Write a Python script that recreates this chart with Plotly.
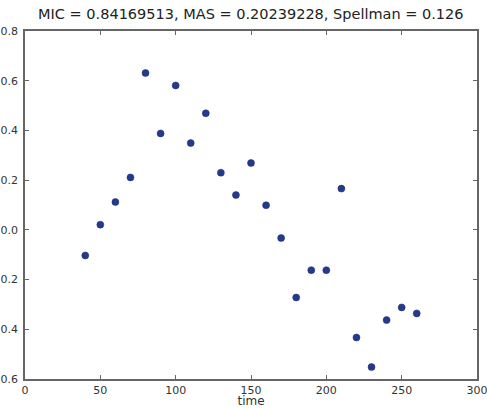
import plotly.graph_objects as go

time = [40, 50, 60, 70, 80, 90, 100, 110, 120, 130, 140, 150, 160, 170, 180,
        190, 200, 210, 220, 230, 240, 250, 260]
values = [-0.103, 0.021, 0.112, 0.211, 0.631, 0.388, 0.581, 0.349, 0.469, 0.230,
          0.140, 0.269, 0.099, -0.033, -0.272, -0.162, -0.162, 0.166, -0.433,
          -0.552, -0.363, -0.312, -0.336]
title_text = "MIC = 0.84169513, MAS = 0.20239228, Spellman = 0.126"
x_ticks = [0, 50, 100, 150, 200, 250, 300]
y_ticks = [-0.6, -0.4, -0.2, 0.0, 0.2, 0.4, 0.6, 0.8]

fig = go.Figure()
fig.add_trace(go.Scatter(
    x=time, y=values, mode="markers",
    marker=dict(size=7, color="#233a8f", line=dict(color="#1a2a66", width=0.5)),
    showlegend=False,
))

axis_common = dict(
    showgrid=False, zeroline=False, showline=True, linecolor="#666666", linewidth=1.5,
    mirror="ticks", ticks="inside", ticklen=4, tickcolor="#666666", tickwidth=1,
    tickfont=dict(family="DejaVu Sans", size=11, color="#333333"),
    ticklabeloverflow="allow",
)

fig.update_layout(
    width=487, height=408,
    margin=dict(l=25, r=10, t=31, b=29),
    paper_bgcolor="white", plot_bgcolor="white",
    title=dict(text=title_text, x=0.515, xanchor="center", y=0.965, yanchor="middle",
               font=dict(family="DejaVu Sans", size=14.5, color="#222222")),
    xaxis=dict(range=[0, 300], tickvals=x_ticks, automargin=False,
               title=dict(text="time", standoff=0,
                          font=dict(family="DejaVu Sans", size=12, color="#333333")),
               ticklabelstandoff=0, **axis_common),
    yaxis=dict(range=[-0.6, 0.8], tickvals=y_ticks, tickformat=".1f", automargin=False,
               ticklabelstandoff=3, **axis_common),
)

fig.write_html("out.html", config={"displayModeBar": False},
               post_script="document.body.style.margin='0px';")
